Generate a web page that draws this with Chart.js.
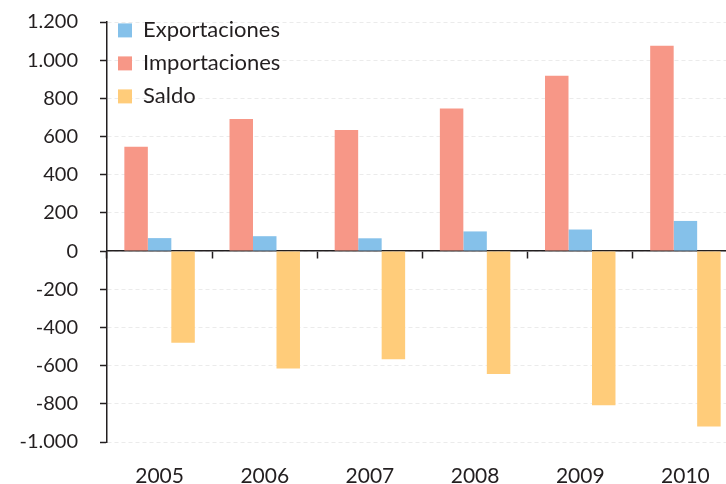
<!DOCTYPE html>
<html>
<head>
<meta charset="utf-8">
<script src="https://cdn.jsdelivr.net/npm/chart.js@4"></script>
<style>
    html, body { margin: 0; padding: 0; background: #fff; overflow: hidden; }
    #wrap { width: 740px; height: 484px; }
</style>
</head>
<body>
<div id="wrap"><canvas id="chart_trade"></canvas></div>
<script>
const years = ['2005', '2006', '2007', '2008', '2009', '2010']
const exportaciones = [68, 78, 67, 103, 113, 158]
const importaciones = [547, 692, 634, 747, 919, 1076]
const saldo = [-480, -615, -566, -644, -807, -919]

const y_min = -1000
const y_max = 1200
const y_step = 200

const text_color = '#231f20'
const axis_color = '#231f20'

function fmt_thousands(value) {
    const s = String(Math.abs(value)).replace(/\B(?=(\d{3})+(?!\d))/g, '.')
    return (value < 0 ? '-' : '') + s
}

Chart.defaults.font.family = 'Lato, "Open Sans", sans-serif'
Chart.defaults.color = text_color

const chart_trade = new Chart(document.getElementById('chart_trade'), {
    type: 'bar',
    data: {
        labels: years,
        datasets: [
            {
                label: 'Exportaciones',
                data: exportaciones,
                backgroundColor: '#85c1ea',
                order: 2
            },
            {
                label: 'Importaciones',
                data: importaciones,
                backgroundColor: '#f79787',
                order: 1
            },
            {
                label: 'Saldo',
                data: saldo,
                backgroundColor: '#ffcc7a',
                order: 3
            }
        ]
    },
    options: {
        responsive: true,
        maintainAspectRatio: false,
        animation: false,
        layout: {
            padding: { top: 22, right: 2, left: 0, bottom: 0 }
        },
        datasets: {
            bar: {
                categoryPercentage: 0.67,
                barPercentage: 1.0,
                borderWidth: 0
            }
        },
        scales: {
            x: {
                type: 'category',
                position: 'bottom',
                grid: { display: false },
                border: { display: false },
                ticks: {
                    padding: 14,
                    font: { size: 21 },
                    color: text_color
                },
                afterFit: function (scale) {
                    scale.height = 42
                }
            },
            x0: {
                type: 'category',
                position: { y: 0 },
                grid: {
                    offset: true,
                    drawOnChartArea: false,
                    drawTicks: true,
                    tickLength: 7,
                    tickColor: axis_color,
                    tickWidth: 1.5
                },
                border: { display: true, color: axis_color, width: 1.5 },
                ticks: { display: false },
                afterFit: function (scale) {
                    scale.height = 0
                }
            },
            y: {
                min: y_min,
                max: y_max,
                grid: {
                    color: '#ebebeb',
                    lineWidth: 1,
                    tickColor: axis_color,
                    tickLength: 7,
                    tickWidth: 1.5
                },
                border: { display: true, color: axis_color, width: 1.5, dash: [4, 3] },
                ticks: {
                    stepSize: y_step,
                    padding: 22,
                    font: { size: 20 },
                    color: text_color,
                    callback: function (value) {
                        return fmt_thousands(value)
                    }
                },
                afterFit: function (scale) {
                    // ラベル余白が上に効かないようにする
                    scale.width = 107
                    scale.paddingTop = 0
                    scale.paddingBottom = 0
                }
            }
        },
        plugins: {
            legend: {
                position: 'chartArea',
                align: 'start',
                title: {
                    display: true,
                    text: '',
                    padding: 0,
                    font: { size: 7 }
                },
                labels: {
                    boxWidth: 14,
                    boxHeight: 14,
                    padding: 11,
                    font: { size: 22 },
                    color: text_color,
                    sort: function (a, b) {
                        return a.datasetIndex - b.datasetIndex
                    }
                }
            },
            tooltip: { enabled: false }
        }
    }
})
</script>
</body>
</html>
